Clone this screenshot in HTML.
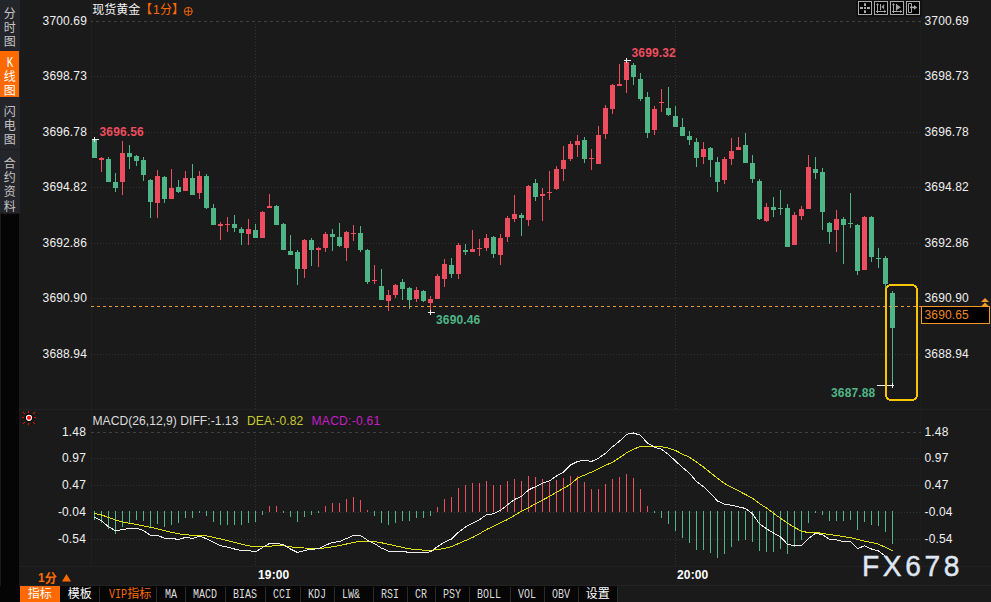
<!DOCTYPE html>
<html><head><meta charset="utf-8"><title>chart</title>
<style>
html,body{margin:0;padding:0;background:#1a1a1a;}
#root{position:relative;width:991px;height:602px;overflow:hidden;background:#1a1a1a;font-family:"Liberation Sans",sans-serif;}
.t{position:absolute;white-space:nowrap;line-height:14px;height:14px;letter-spacing:0.15px;}
.sb{position:absolute;left:0;width:20px;background:#24252a;}
.tab{position:absolute;top:587px;height:15px;line-height:15px;color:#dcdcdc;font-family:"Liberation Mono",monospace;font-size:10px;text-align:center;transform:scaleY(1.2);transform-origin:50% 50%;}
.sep{position:absolute;top:587px;width:1px;height:15px;background:#2c2c2c;}
svg{position:absolute;left:0;top:0;}
svg rect,svg line,svg polyline{shape-rendering:crispEdges;}
svg text{font-family:"Liberation Sans","Noto Sans CJK SC",sans-serif;}
</style></head><body>
<div id="root">
<div class="sb" style="top:0;height:213px"></div>
<div class="sb" style="top:51px;height:46px;width:19px;background:#ff6a00"></div>
<div class="sb" style="top:149px;height:1px;background:#1d1e22"></div>
<div style="position:absolute;left:1px;top:214px;width:18px;height:388px;background:#050505"></div>
<div style="position:absolute;left:0;top:586px;width:20px;height:16px;background:#050505"></div>
<div style="position:absolute;left:20px;top:586px;width:597px;height:16px;background:#060606"></div>
<div style="position:absolute;left:20px;top:586px;width:40px;height:16px;background:#ff6a00"></div>
<div class="sep" style="left:99px"></div><div class="sep" style="left:156px"></div><div class="sep" style="left:185px"></div><div class="sep" style="left:225px"></div><div class="sep" style="left:265px"></div><div class="sep" style="left:300px"></div><div class="sep" style="left:334px"></div><div class="sep" style="left:373px"></div><div class="sep" style="left:407px"></div><div class="sep" style="left:435px"></div><div class="sep" style="left:469px"></div><div class="sep" style="left:510px"></div><div class="sep" style="left:544px"></div><div class="sep" style="left:578px"></div><div class="sep" style="left:617px"></div>
<svg width="991" height="602" viewBox="0 0 991 602">
<rect x="91" y="0" width="1" height="566" fill="#202020"/>
<rect x="920" y="0" width="1" height="566" fill="#1d1d1d"/>
<rect x="19" y="409" width="972" height="1" fill="#212121"/>
<rect x="19" y="566" width="972" height="1" fill="#212121"/>
<rect x="19" y="585" width="972" height="1" fill="#222"/>
<line x1="91" y1="21.5" x2="921" y2="21.5" stroke="#404040" stroke-dasharray="3 3" stroke-dashoffset="1"/>
<line x1="91" y1="76.5" x2="921" y2="76.5" stroke="#333333" stroke-dasharray="1 2"/>
<line x1="91" y1="132.5" x2="921" y2="132.5" stroke="#333333" stroke-dasharray="1 2"/>
<line x1="91" y1="187.5" x2="921" y2="187.5" stroke="#333333" stroke-dasharray="1 2"/>
<line x1="91" y1="243.5" x2="921" y2="243.5" stroke="#333333" stroke-dasharray="1 2"/>
<line x1="91" y1="298.5" x2="921" y2="298.5" stroke="#333333" stroke-dasharray="1 2"/>
<line x1="91" y1="354.5" x2="921" y2="354.5" stroke="#333333" stroke-dasharray="1 2"/>
<line x1="255.5" y1="24" x2="255.5" y2="409" stroke="#333333" stroke-dasharray="1 2"/>
<line x1="675.5" y1="24" x2="675.5" y2="409" stroke="#333333" stroke-dasharray="1 2"/>
<line x1="91" y1="432.5" x2="921" y2="432.5" stroke="#404040" stroke-dasharray="3 3" stroke-dashoffset="0"/>
<line x1="91" y1="458.5" x2="921" y2="458.5" stroke="#333333" stroke-dasharray="1 2"/>
<line x1="91" y1="485.5" x2="921" y2="485.5" stroke="#333333" stroke-dasharray="1 2"/>
<line x1="91" y1="512.5" x2="921" y2="512.5" stroke="#333333" stroke-dasharray="1 2"/>
<line x1="91" y1="539.5" x2="921" y2="539.5" stroke="#333333" stroke-dasharray="1 2"/>
<line x1="255.5" y1="435" x2="255.5" y2="566" stroke="#333333" stroke-dasharray="1 2"/>
<line x1="675.5" y1="435" x2="675.5" y2="566" stroke="#333333" stroke-dasharray="1 2"/>
<rect x="94" y="511" width="1" height="8.8" fill="#4fb587"/>
<rect x="101" y="511" width="1" height="11.9" fill="#4fb587"/>
<rect x="108" y="511" width="1" height="17.7" fill="#4fb587"/>
<rect x="115" y="511" width="1" height="23.0" fill="#4fb587"/>
<rect x="122" y="511" width="1" height="15.7" fill="#4fb587"/>
<rect x="129" y="511" width="1" height="11.9" fill="#4fb587"/>
<rect x="136" y="511" width="1" height="8.8" fill="#4fb587"/>
<rect x="143" y="511" width="1" height="9.8" fill="#4fb587"/>
<rect x="150" y="511" width="1" height="16.7" fill="#4fb587"/>
<rect x="157" y="511" width="1" height="12.8" fill="#4fb587"/>
<rect x="164" y="511" width="1" height="15.7" fill="#4fb587"/>
<rect x="171" y="511" width="1" height="13.7" fill="#4fb587"/>
<rect x="178" y="511" width="1" height="11.9" fill="#4fb587"/>
<rect x="185" y="511" width="1" height="6.8" fill="#4fb587"/>
<rect x="192" y="511" width="1" height="6.8" fill="#4fb587"/>
<rect x="199" y="511" width="1" height="1.9" fill="#4fb587"/>
<rect x="206" y="511" width="1" height="5.0" fill="#4fb587"/>
<rect x="213" y="511" width="1" height="10.8" fill="#4fb587"/>
<rect x="220" y="511" width="1" height="13.8" fill="#4fb587"/>
<rect x="227" y="511" width="1" height="14.1" fill="#4fb587"/>
<rect x="234" y="511" width="1" height="14.1" fill="#4fb587"/>
<rect x="241" y="511" width="1" height="13.8" fill="#4fb587"/>
<rect x="248" y="511" width="1" height="12.0" fill="#4fb587"/>
<rect x="255" y="511" width="1" height="11.1" fill="#4fb587"/>
<rect x="262" y="511" width="1" height="4.0" fill="#4fb587"/>
<rect x="269" y="505.9" width="1" height="6.1" fill="#ee4d5f"/>
<rect x="276" y="505.9" width="1" height="6.1" fill="#ee4d5f"/>
<rect x="283" y="511" width="1" height="2.0" fill="#4fb587"/>
<rect x="290" y="511" width="1" height="6.0" fill="#4fb587"/>
<rect x="297" y="511" width="1" height="11.1" fill="#4fb587"/>
<rect x="304" y="511" width="1" height="6.0" fill="#4fb587"/>
<rect x="311" y="511" width="1" height="4.0" fill="#4fb587"/>
<rect x="318" y="511" width="1" height="2.0" fill="#4fb587"/>
<rect x="325" y="505.9" width="1" height="6.1" fill="#ee4d5f"/>
<rect x="332" y="502.9" width="1" height="9.1" fill="#ee4d5f"/>
<rect x="339" y="502.9" width="1" height="9.1" fill="#ee4d5f"/>
<rect x="346" y="499.0" width="1" height="13.0" fill="#ee4d5f"/>
<rect x="353" y="497.0" width="1" height="15.0" fill="#ee4d5f"/>
<rect x="360" y="500.0" width="1" height="12.0" fill="#ee4d5f"/>
<rect x="367" y="509.5" width="1" height="2.5" fill="#ee4d5f"/>
<rect x="374" y="511" width="1" height="4.9" fill="#4fb587"/>
<rect x="381" y="511" width="1" height="12.1" fill="#4fb587"/>
<rect x="388" y="511" width="1" height="14.0" fill="#4fb587"/>
<rect x="395" y="511" width="1" height="12.1" fill="#4fb587"/>
<rect x="402" y="511" width="1" height="10.2" fill="#4fb587"/>
<rect x="409" y="511" width="1" height="10.2" fill="#4fb587"/>
<rect x="416" y="511" width="1" height="6.8" fill="#4fb587"/>
<rect x="423" y="511" width="1" height="6.8" fill="#4fb587"/>
<rect x="430" y="511" width="1" height="5.0" fill="#4fb587"/>
<rect x="437" y="506.9" width="1" height="5.1" fill="#ee4d5f"/>
<rect x="444" y="498.9" width="1" height="13.1" fill="#ee4d5f"/>
<rect x="451" y="497.0" width="1" height="15.0" fill="#ee4d5f"/>
<rect x="458" y="487.9" width="1" height="24.1" fill="#ee4d5f"/>
<rect x="465" y="485.0" width="1" height="27.0" fill="#ee4d5f"/>
<rect x="472" y="483.0" width="1" height="29.0" fill="#ee4d5f"/>
<rect x="479" y="483.0" width="1" height="29.0" fill="#ee4d5f"/>
<rect x="486" y="481.0" width="1" height="31.0" fill="#ee4d5f"/>
<rect x="493" y="485.0" width="1" height="27.0" fill="#ee4d5f"/>
<rect x="500" y="485.0" width="1" height="27.0" fill="#ee4d5f"/>
<rect x="507" y="480.9" width="1" height="31.1" fill="#ee4d5f"/>
<rect x="514" y="479.0" width="1" height="33.0" fill="#ee4d5f"/>
<rect x="521" y="480.9" width="1" height="31.1" fill="#ee4d5f"/>
<rect x="528" y="476.0" width="1" height="36.0" fill="#ee4d5f"/>
<rect x="535" y="477.1" width="1" height="34.9" fill="#ee4d5f"/>
<rect x="542" y="479.0" width="1" height="33.0" fill="#ee4d5f"/>
<rect x="549" y="482.1" width="1" height="29.9" fill="#ee4d5f"/>
<rect x="556" y="480.1" width="1" height="31.9" fill="#ee4d5f"/>
<rect x="563" y="477.8" width="1" height="34.2" fill="#ee4d5f"/>
<rect x="570" y="476.0" width="1" height="36.0" fill="#ee4d5f"/>
<rect x="577" y="476.0" width="1" height="36.0" fill="#ee4d5f"/>
<rect x="584" y="482.1" width="1" height="29.9" fill="#ee4d5f"/>
<rect x="591" y="488.9" width="1" height="23.1" fill="#ee4d5f"/>
<rect x="598" y="488.9" width="1" height="23.1" fill="#ee4d5f"/>
<rect x="605" y="483.9" width="1" height="28.1" fill="#ee4d5f"/>
<rect x="612" y="479.0" width="1" height="33.0" fill="#ee4d5f"/>
<rect x="619" y="477.1" width="1" height="34.9" fill="#ee4d5f"/>
<rect x="626" y="474.0" width="1" height="38.0" fill="#ee4d5f"/>
<rect x="633" y="478.0" width="1" height="34.0" fill="#ee4d5f"/>
<rect x="640" y="489.0" width="1" height="23.0" fill="#ee4d5f"/>
<rect x="647" y="506.0" width="1" height="6.0" fill="#ee4d5f"/>
<rect x="654" y="511" width="1" height="2.0" fill="#4fb587"/>
<rect x="661" y="511" width="1" height="6.8" fill="#4fb587"/>
<rect x="668" y="511" width="1" height="12.9" fill="#4fb587"/>
<rect x="675" y="511" width="1" height="20.0" fill="#4fb587"/>
<rect x="682" y="511" width="1" height="27.0" fill="#4fb587"/>
<rect x="689" y="511" width="1" height="31.8" fill="#4fb587"/>
<rect x="696" y="511" width="1" height="38.9" fill="#4fb587"/>
<rect x="703" y="511" width="1" height="38.9" fill="#4fb587"/>
<rect x="710" y="511" width="1" height="42.0" fill="#4fb587"/>
<rect x="717" y="511" width="1" height="46.9" fill="#4fb587"/>
<rect x="724" y="511" width="1" height="42.9" fill="#4fb587"/>
<rect x="731" y="511" width="1" height="35.9" fill="#4fb587"/>
<rect x="738" y="511" width="1" height="29.8" fill="#4fb587"/>
<rect x="745" y="511" width="1" height="28.8" fill="#4fb587"/>
<rect x="752" y="511" width="1" height="30.8" fill="#4fb587"/>
<rect x="759" y="511" width="1" height="39.8" fill="#4fb587"/>
<rect x="766" y="511" width="1" height="40.9" fill="#4fb587"/>
<rect x="773" y="511" width="1" height="40.9" fill="#4fb587"/>
<rect x="780" y="511" width="1" height="37.9" fill="#4fb587"/>
<rect x="787" y="511" width="1" height="42.9" fill="#4fb587"/>
<rect x="794" y="511" width="1" height="35.9" fill="#4fb587"/>
<rect x="801" y="511" width="1" height="28.8" fill="#4fb587"/>
<rect x="808" y="511" width="1" height="11.8" fill="#4fb587"/>
<rect x="815" y="511" width="1" height="2.0" fill="#4fb587"/>
<rect x="822" y="511" width="1" height="3.9" fill="#4fb587"/>
<rect x="829" y="511" width="1" height="9.8" fill="#4fb587"/>
<rect x="836" y="511" width="1" height="9.8" fill="#4fb587"/>
<rect x="843" y="511" width="1" height="9.8" fill="#4fb587"/>
<rect x="850" y="511" width="1" height="8.9" fill="#4fb587"/>
<rect x="857" y="511" width="1" height="18.7" fill="#4fb587"/>
<rect x="864" y="511" width="1" height="10.9" fill="#4fb587"/>
<rect x="871" y="511" width="1" height="13.8" fill="#4fb587"/>
<rect x="878" y="511" width="1" height="14.8" fill="#4fb587"/>
<rect x="885" y="511" width="1" height="21.0" fill="#4fb587"/>
<rect x="892" y="511" width="1" height="32.8" fill="#4fb587"/>
<polyline points="94.5,513.4 101.5,515.0 108.5,517.4 115.5,520.1 122.5,521.9 129.5,523.2 136.5,524.4 143.5,525.9 150.5,527.3 157.5,528.9 164.5,530.7 171.5,532.3 178.5,533.8 185.5,534.7 192.5,535.3 199.5,535.6 206.5,535.9 213.5,537.4 220.5,538.9 227.5,540.7 234.5,542.5 241.5,544.2 248.5,545.7 255.5,546.8 262.5,546.8 269.5,546.3 276.5,545.5 283.5,545.5 290.5,546.8 297.5,547.8 304.5,548.0 311.5,548.6 318.5,548.6 325.5,547.8 332.5,546.8 339.5,545.5 346.5,544.0 353.5,542.4 360.5,541.3 367.5,541.3 374.5,541.6 381.5,542.8 388.5,544.3 395.5,545.8 402.5,547.4 409.5,548.9 416.5,549.6 423.5,550.1 430.5,550.4 437.5,549.6 444.5,548.4 451.5,546.6 458.5,543.6 465.5,540.5 472.5,537.5 479.5,533.7 486.5,529.5 493.5,526.3 500.5,522.9 507.5,519.5 514.5,515.4 521.5,511.1 528.5,507.8 535.5,503.6 542.5,500.2 549.5,496.3 556.5,492.2 563.5,488.4 570.5,484.3 577.5,478.1 584.5,475.1 591.5,472.1 598.5,468.8 605.5,465.4 612.5,462.2 619.5,457.8 626.5,452.8 633.5,449.2 640.5,446.5 647.5,446.5 654.5,446.5 661.5,446.6 668.5,448.2 675.5,450.4 682.5,454.2 689.5,457.2 696.5,462.1 703.5,467.1 710.5,472.7 717.5,478.3 724.5,483.5 731.5,487.3 738.5,490.9 745.5,494.5 752.5,498.3 759.5,503.6 766.5,508.0 773.5,513.3 780.5,518.3 787.5,523.1 794.5,527.4 801.5,531.2 808.5,532.6 815.5,532.6 822.5,533.3 829.5,534.6 836.5,535.5 843.5,536.6 850.5,537.6 857.5,539.5 864.5,541.2 871.5,542.5 878.5,544.2 885.5,547.3 892.5,550.6" fill="none" stroke="#e0e010" stroke-width="1" stroke-linejoin="round"/>
<polyline points="94.5,517.2 101.5,520.8 108.5,526.7 115.5,530.7 122.5,529.6 129.5,528.3 136.5,528.3 143.5,530.6 150.5,535.3 157.5,535.6 164.5,538.1 171.5,538.2 178.5,539.6 185.5,537.4 192.5,538.4 199.5,536.2 206.5,538.7 213.5,542.2 220.5,545.7 227.5,547.2 234.5,549.0 241.5,550.5 248.5,550.5 255.5,551.8 262.5,547.5 269.5,543.4 276.5,543.4 283.5,544.8 290.5,549.0 297.5,552.5 304.5,550.5 311.5,549.3 318.5,548.7 325.5,545.2 332.5,542.5 339.5,541.5 346.5,538.5 353.5,535.5 360.5,535.5 367.5,540.2 374.5,543.6 381.5,548.1 388.5,551.1 395.5,551.1 402.5,551.6 409.5,552.3 416.5,552.3 423.5,552.3 430.5,551.9 437.5,546.6 444.5,542.1 451.5,539.0 458.5,532.2 465.5,526.9 472.5,523.1 479.5,519.7 486.5,514.8 493.5,513.7 500.5,510.4 507.5,504.8 514.5,499.5 521.5,496.3 528.5,490.0 535.5,486.6 542.5,483.1 549.5,480.9 556.5,476.0 563.5,472.1 570.5,465.0 577.5,461.5 584.5,460.1 591.5,461.5 598.5,458.2 605.5,453.3 612.5,446.8 619.5,441.2 626.5,434.4 633.5,433.0 640.5,435.3 647.5,443.2 654.5,447.2 661.5,449.2 668.5,454.5 675.5,461.0 682.5,467.4 689.5,473.4 696.5,481.5 703.5,486.8 710.5,493.3 717.5,501.0 724.5,504.1 731.5,505.3 738.5,506.8 745.5,508.5 752.5,513.8 759.5,523.9 766.5,528.7 773.5,533.0 780.5,536.8 787.5,544.3 794.5,545.6 801.5,545.6 808.5,538.4 815.5,533.3 822.5,534.6 829.5,539.5 836.5,539.8 843.5,541.6 850.5,541.6 857.5,548.6 864.5,545.8 871.5,549.0 878.5,551.0 885.5,556.2 892.5,566.0" fill="none" stroke="#ececec" stroke-width="1" stroke-linejoin="round"/>
<rect x="94" y="139" width="1" height="19" fill="#4fb587"/>
<rect x="92" y="140" width="5" height="18" fill="#4fb587"/>
<rect x="101" y="157" width="1" height="15" fill="#ee4d5f"/>
<rect x="99" y="158" width="5" height="2" fill="#ee4d5f"/>
<rect x="108" y="157" width="1" height="25" fill="#4fb587"/>
<rect x="106" y="159" width="5" height="23" fill="#4fb587"/>
<rect x="115" y="173" width="1" height="19" fill="#4fb587"/>
<rect x="113" y="182" width="5" height="6" fill="#4fb587"/>
<rect x="122" y="141" width="1" height="54" fill="#ee4d5f"/>
<rect x="120" y="153" width="5" height="29" fill="#ee4d5f"/>
<rect x="129" y="145" width="1" height="24" fill="#4fb587"/>
<rect x="127" y="153" width="5" height="4" fill="#4fb587"/>
<rect x="136" y="155" width="1" height="11" fill="#4fb587"/>
<rect x="134" y="156" width="5" height="5" fill="#4fb587"/>
<rect x="143" y="157" width="1" height="24" fill="#4fb587"/>
<rect x="141" y="160" width="5" height="15" fill="#4fb587"/>
<rect x="150" y="179" width="1" height="39" fill="#4fb587"/>
<rect x="148" y="180" width="5" height="22" fill="#4fb587"/>
<rect x="157" y="170" width="1" height="48" fill="#ee4d5f"/>
<rect x="155" y="176" width="5" height="27" fill="#ee4d5f"/>
<rect x="164" y="176" width="1" height="27" fill="#4fb587"/>
<rect x="162" y="177" width="5" height="22" fill="#4fb587"/>
<rect x="171" y="169" width="1" height="30" fill="#ee4d5f"/>
<rect x="169" y="188" width="5" height="11" fill="#ee4d5f"/>
<rect x="178" y="180" width="1" height="13" fill="#4fb587"/>
<rect x="176" y="187" width="5" height="5" fill="#4fb587"/>
<rect x="185" y="171" width="1" height="20" fill="#ee4d5f"/>
<rect x="183" y="178" width="5" height="13" fill="#ee4d5f"/>
<rect x="192" y="164" width="1" height="31" fill="#4fb587"/>
<rect x="190" y="178" width="5" height="17" fill="#4fb587"/>
<rect x="199" y="171" width="1" height="28" fill="#ee4d5f"/>
<rect x="197" y="176" width="5" height="17" fill="#ee4d5f"/>
<rect x="206" y="174" width="1" height="35" fill="#4fb587"/>
<rect x="204" y="176" width="5" height="32" fill="#4fb587"/>
<rect x="213" y="204" width="1" height="21" fill="#4fb587"/>
<rect x="211" y="208" width="5" height="17" fill="#4fb587"/>
<rect x="220" y="222" width="1" height="18" fill="#ee4d5f"/>
<rect x="218" y="224" width="5" height="2" fill="#ee4d5f"/>
<rect x="227" y="217" width="1" height="15" fill="#ee4d5f"/>
<rect x="225" y="224" width="5" height="1" fill="#ee4d5f"/>
<rect x="234" y="215" width="1" height="17" fill="#4fb587"/>
<rect x="232" y="224" width="5" height="4" fill="#4fb587"/>
<rect x="241" y="227" width="1" height="18" fill="#4fb587"/>
<rect x="239" y="229" width="5" height="4" fill="#4fb587"/>
<rect x="248" y="219" width="1" height="26" fill="#ee4d5f"/>
<rect x="246" y="229" width="5" height="5" fill="#ee4d5f"/>
<rect x="255" y="224" width="1" height="14" fill="#4fb587"/>
<rect x="253" y="230" width="5" height="8" fill="#4fb587"/>
<rect x="262" y="211" width="1" height="27" fill="#ee4d5f"/>
<rect x="260" y="212" width="5" height="26" fill="#ee4d5f"/>
<rect x="269" y="194" width="1" height="14" fill="#ee4d5f"/>
<rect x="267" y="206" width="5" height="2" fill="#ee4d5f"/>
<rect x="276" y="205" width="1" height="20" fill="#4fb587"/>
<rect x="274" y="206" width="5" height="19" fill="#4fb587"/>
<rect x="283" y="223" width="1" height="27" fill="#4fb587"/>
<rect x="281" y="224" width="5" height="26" fill="#4fb587"/>
<rect x="290" y="235" width="1" height="20" fill="#4fb587"/>
<rect x="288" y="251" width="5" height="4" fill="#4fb587"/>
<rect x="297" y="250" width="1" height="35" fill="#4fb587"/>
<rect x="295" y="252" width="5" height="17" fill="#4fb587"/>
<rect x="304" y="239" width="1" height="39" fill="#ee4d5f"/>
<rect x="302" y="240" width="5" height="29" fill="#ee4d5f"/>
<rect x="311" y="238" width="1" height="28" fill="#4fb587"/>
<rect x="309" y="240" width="5" height="10" fill="#4fb587"/>
<rect x="318" y="247" width="1" height="20" fill="#ee4d5f"/>
<rect x="316" y="248" width="5" height="2" fill="#ee4d5f"/>
<rect x="325" y="232" width="1" height="20" fill="#ee4d5f"/>
<rect x="323" y="234" width="5" height="14" fill="#ee4d5f"/>
<rect x="332" y="229" width="1" height="22" fill="#4fb587"/>
<rect x="330" y="234" width="5" height="3" fill="#4fb587"/>
<rect x="339" y="223" width="1" height="24" fill="#4fb587"/>
<rect x="337" y="237" width="5" height="9" fill="#4fb587"/>
<rect x="346" y="231" width="1" height="30" fill="#ee4d5f"/>
<rect x="344" y="232" width="5" height="16" fill="#ee4d5f"/>
<rect x="353" y="225" width="1" height="16" fill="#ee4d5f"/>
<rect x="351" y="233" width="5" height="1" fill="#ee4d5f"/>
<rect x="360" y="226" width="1" height="26" fill="#4fb587"/>
<rect x="358" y="233" width="5" height="17" fill="#4fb587"/>
<rect x="367" y="249" width="1" height="35" fill="#4fb587"/>
<rect x="365" y="250" width="5" height="32" fill="#4fb587"/>
<rect x="374" y="265" width="1" height="19" fill="#ee4d5f"/>
<rect x="372" y="280" width="5" height="1" fill="#ee4d5f"/>
<rect x="381" y="269" width="1" height="31" fill="#4fb587"/>
<rect x="379" y="286" width="5" height="14" fill="#4fb587"/>
<rect x="388" y="290" width="1" height="21" fill="#ee4d5f"/>
<rect x="386" y="295" width="5" height="6" fill="#ee4d5f"/>
<rect x="395" y="284" width="1" height="14" fill="#ee4d5f"/>
<rect x="393" y="285" width="5" height="10" fill="#ee4d5f"/>
<rect x="402" y="279" width="1" height="21" fill="#4fb587"/>
<rect x="400" y="282" width="5" height="7" fill="#4fb587"/>
<rect x="409" y="287" width="1" height="22" fill="#4fb587"/>
<rect x="407" y="288" width="5" height="12" fill="#4fb587"/>
<rect x="416" y="287" width="1" height="15" fill="#ee4d5f"/>
<rect x="414" y="290" width="5" height="9" fill="#ee4d5f"/>
<rect x="423" y="290" width="1" height="12" fill="#4fb587"/>
<rect x="421" y="291" width="5" height="10" fill="#4fb587"/>
<rect x="430" y="296" width="1" height="16" fill="#ee4d5f"/>
<rect x="428" y="299" width="5" height="4" fill="#ee4d5f"/>
<rect x="437" y="274" width="1" height="25" fill="#ee4d5f"/>
<rect x="435" y="276" width="5" height="23" fill="#ee4d5f"/>
<rect x="444" y="259" width="1" height="28" fill="#ee4d5f"/>
<rect x="442" y="264" width="5" height="15" fill="#ee4d5f"/>
<rect x="451" y="258" width="1" height="20" fill="#4fb587"/>
<rect x="449" y="265" width="5" height="9" fill="#4fb587"/>
<rect x="458" y="243" width="1" height="36" fill="#ee4d5f"/>
<rect x="456" y="245" width="5" height="29" fill="#ee4d5f"/>
<rect x="465" y="244" width="1" height="11" fill="#4fb587"/>
<rect x="463" y="250" width="5" height="2" fill="#4fb587"/>
<rect x="472" y="230" width="1" height="22" fill="#ee4d5f"/>
<rect x="470" y="249" width="5" height="3" fill="#ee4d5f"/>
<rect x="479" y="239" width="1" height="17" fill="#ee4d5f"/>
<rect x="477" y="248" width="5" height="1" fill="#ee4d5f"/>
<rect x="486" y="234" width="1" height="17" fill="#ee4d5f"/>
<rect x="484" y="238" width="5" height="10" fill="#ee4d5f"/>
<rect x="493" y="236" width="1" height="22" fill="#4fb587"/>
<rect x="491" y="237" width="5" height="17" fill="#4fb587"/>
<rect x="500" y="234" width="1" height="31" fill="#ee4d5f"/>
<rect x="498" y="238" width="5" height="17" fill="#ee4d5f"/>
<rect x="507" y="216" width="1" height="26" fill="#ee4d5f"/>
<rect x="505" y="218" width="5" height="19" fill="#ee4d5f"/>
<rect x="514" y="195" width="1" height="27" fill="#ee4d5f"/>
<rect x="512" y="214" width="5" height="5" fill="#ee4d5f"/>
<rect x="521" y="213" width="1" height="23" fill="#4fb587"/>
<rect x="519" y="215" width="5" height="3" fill="#4fb587"/>
<rect x="528" y="185" width="1" height="41" fill="#ee4d5f"/>
<rect x="526" y="186" width="5" height="34" fill="#ee4d5f"/>
<rect x="535" y="179" width="1" height="22" fill="#4fb587"/>
<rect x="533" y="183" width="5" height="14" fill="#4fb587"/>
<rect x="542" y="188" width="1" height="33" fill="#ee4d5f"/>
<rect x="540" y="194" width="5" height="2" fill="#ee4d5f"/>
<rect x="549" y="171" width="1" height="29" fill="#ee4d5f"/>
<rect x="547" y="192" width="5" height="1" fill="#ee4d5f"/>
<rect x="556" y="166" width="1" height="24" fill="#ee4d5f"/>
<rect x="554" y="169" width="5" height="20" fill="#ee4d5f"/>
<rect x="563" y="146" width="1" height="35" fill="#ee4d5f"/>
<rect x="561" y="160" width="5" height="9" fill="#ee4d5f"/>
<rect x="570" y="141" width="1" height="20" fill="#ee4d5f"/>
<rect x="568" y="144" width="5" height="15" fill="#ee4d5f"/>
<rect x="577" y="135" width="1" height="22" fill="#ee4d5f"/>
<rect x="575" y="141" width="5" height="4" fill="#ee4d5f"/>
<rect x="584" y="137" width="1" height="26" fill="#4fb587"/>
<rect x="582" y="140" width="5" height="19" fill="#4fb587"/>
<rect x="591" y="149" width="1" height="21" fill="#ee4d5f"/>
<rect x="589" y="158" width="5" height="1" fill="#ee4d5f"/>
<rect x="598" y="126" width="1" height="38" fill="#ee4d5f"/>
<rect x="596" y="135" width="5" height="29" fill="#ee4d5f"/>
<rect x="605" y="105" width="1" height="34" fill="#ee4d5f"/>
<rect x="603" y="108" width="5" height="26" fill="#ee4d5f"/>
<rect x="612" y="84" width="1" height="30" fill="#ee4d5f"/>
<rect x="610" y="85" width="5" height="24" fill="#ee4d5f"/>
<rect x="619" y="64" width="1" height="22" fill="#ee4d5f"/>
<rect x="617" y="84" width="5" height="2" fill="#ee4d5f"/>
<rect x="626" y="60" width="1" height="33" fill="#ee4d5f"/>
<rect x="624" y="62" width="5" height="18" fill="#ee4d5f"/>
<rect x="633" y="63" width="1" height="22" fill="#4fb587"/>
<rect x="631" y="65" width="5" height="12" fill="#4fb587"/>
<rect x="640" y="73" width="1" height="28" fill="#4fb587"/>
<rect x="638" y="79" width="5" height="20" fill="#4fb587"/>
<rect x="647" y="92" width="1" height="46" fill="#4fb587"/>
<rect x="645" y="97" width="5" height="36" fill="#4fb587"/>
<rect x="654" y="106" width="1" height="29" fill="#ee4d5f"/>
<rect x="652" y="109" width="5" height="21" fill="#ee4d5f"/>
<rect x="661" y="89" width="1" height="23" fill="#ee4d5f"/>
<rect x="659" y="102" width="5" height="1" fill="#ee4d5f"/>
<rect x="668" y="87" width="1" height="29" fill="#4fb587"/>
<rect x="666" y="108" width="5" height="7" fill="#4fb587"/>
<rect x="675" y="106" width="1" height="21" fill="#4fb587"/>
<rect x="673" y="116" width="5" height="11" fill="#4fb587"/>
<rect x="682" y="118" width="1" height="18" fill="#4fb587"/>
<rect x="680" y="127" width="5" height="9" fill="#4fb587"/>
<rect x="689" y="131" width="1" height="14" fill="#4fb587"/>
<rect x="687" y="136" width="5" height="4" fill="#4fb587"/>
<rect x="696" y="138" width="1" height="29" fill="#4fb587"/>
<rect x="694" y="142" width="5" height="16" fill="#4fb587"/>
<rect x="703" y="142" width="1" height="22" fill="#ee4d5f"/>
<rect x="701" y="149" width="5" height="8" fill="#ee4d5f"/>
<rect x="710" y="147" width="1" height="30" fill="#4fb587"/>
<rect x="708" y="148" width="5" height="12" fill="#4fb587"/>
<rect x="717" y="157" width="1" height="35" fill="#4fb587"/>
<rect x="715" y="162" width="5" height="20" fill="#4fb587"/>
<rect x="724" y="157" width="1" height="27" fill="#ee4d5f"/>
<rect x="722" y="159" width="5" height="21" fill="#ee4d5f"/>
<rect x="731" y="138" width="1" height="27" fill="#ee4d5f"/>
<rect x="729" y="151" width="5" height="8" fill="#ee4d5f"/>
<rect x="738" y="137" width="1" height="13" fill="#ee4d5f"/>
<rect x="736" y="147" width="5" height="3" fill="#ee4d5f"/>
<rect x="745" y="133" width="1" height="30" fill="#4fb587"/>
<rect x="743" y="145" width="5" height="18" fill="#4fb587"/>
<rect x="752" y="155" width="1" height="28" fill="#4fb587"/>
<rect x="750" y="163" width="5" height="16" fill="#4fb587"/>
<rect x="759" y="179" width="1" height="41" fill="#4fb587"/>
<rect x="757" y="181" width="5" height="38" fill="#4fb587"/>
<rect x="766" y="203" width="1" height="19" fill="#ee4d5f"/>
<rect x="764" y="207" width="5" height="14" fill="#ee4d5f"/>
<rect x="773" y="197" width="1" height="20" fill="#4fb587"/>
<rect x="771" y="207" width="5" height="3" fill="#4fb587"/>
<rect x="780" y="190" width="1" height="25" fill="#4fb587"/>
<rect x="778" y="208" width="5" height="1" fill="#4fb587"/>
<rect x="787" y="204" width="1" height="43" fill="#4fb587"/>
<rect x="785" y="208" width="5" height="39" fill="#4fb587"/>
<rect x="794" y="212" width="1" height="33" fill="#ee4d5f"/>
<rect x="792" y="215" width="5" height="30" fill="#ee4d5f"/>
<rect x="801" y="206" width="1" height="14" fill="#ee4d5f"/>
<rect x="799" y="209" width="5" height="7" fill="#ee4d5f"/>
<rect x="808" y="155" width="1" height="54" fill="#ee4d5f"/>
<rect x="806" y="167" width="5" height="42" fill="#ee4d5f"/>
<rect x="815" y="157" width="1" height="22" fill="#4fb587"/>
<rect x="813" y="169" width="5" height="4" fill="#4fb587"/>
<rect x="822" y="168" width="1" height="62" fill="#4fb587"/>
<rect x="820" y="172" width="5" height="40" fill="#4fb587"/>
<rect x="829" y="222" width="1" height="22" fill="#4fb587"/>
<rect x="827" y="223" width="5" height="9" fill="#4fb587"/>
<rect x="836" y="210" width="1" height="42" fill="#ee4d5f"/>
<rect x="834" y="219" width="5" height="11" fill="#ee4d5f"/>
<rect x="843" y="217" width="1" height="47" fill="#4fb587"/>
<rect x="841" y="219" width="5" height="6" fill="#4fb587"/>
<rect x="850" y="193" width="1" height="35" fill="#4fb587"/>
<rect x="848" y="223" width="5" height="1" fill="#4fb587"/>
<rect x="857" y="224" width="1" height="51" fill="#4fb587"/>
<rect x="855" y="225" width="5" height="46" fill="#4fb587"/>
<rect x="864" y="216" width="1" height="54" fill="#ee4d5f"/>
<rect x="862" y="217" width="5" height="53" fill="#ee4d5f"/>
<rect x="871" y="216" width="1" height="46" fill="#4fb587"/>
<rect x="869" y="217" width="5" height="40" fill="#4fb587"/>
<rect x="878" y="248" width="1" height="20" fill="#4fb587"/>
<rect x="876" y="258" width="5" height="1" fill="#4fb587"/>
<rect x="885" y="256" width="1" height="32" fill="#4fb587"/>
<rect x="883" y="258" width="5" height="26" fill="#4fb587"/>
<rect x="892" y="291" width="1" height="95" fill="#4fb587"/>
<rect x="890" y="293" width="5" height="35" fill="#4fb587"/>
<line x1="91" y1="306.5" x2="921" y2="306.5" stroke="#f5982a" stroke-dasharray="3 3"/>
<rect x="92" y="139" width="7" height="1" fill="#ececec"/>
<rect x="94" y="137" width="1" height="5" fill="#ececec"/>
<rect x="624" y="60" width="7" height="1" fill="#ececec"/>
<rect x="626" y="58" width="1" height="5" fill="#ececec"/>
<rect x="428" y="312" width="7" height="1" fill="#ececec"/>
<rect x="430" y="310" width="1" height="5" fill="#ececec"/>
<rect x="877" y="385" width="17" height="1" fill="#ececec"/>
<rect x="892" y="383" width="1" height="5" fill="#ececec"/>
<rect x="886" y="285" width="31" height="115" rx="5" ry="5" fill="none" stroke="#f7c600" stroke-width="2"/>
<rect x="921.5" y="306.5" width="68" height="17" fill="#000" stroke="#f5982a"/>
<path d="M981 302 L985 298 L989 302 Z M981 306.5 L985 302.5 L989 306.5 Z" fill="#f5982a"/>
<rect x="856" y="0" width="66" height="17" fill="#111"/>
<rect x="858.5" y="1.5" width="13" height="13" fill="#000" stroke="#ababab"/>
<rect x="874.5" y="1.5" width="13" height="13" fill="#000" stroke="#ababab"/>
<rect x="890.5" y="1.5" width="13" height="13" fill="#000" stroke="#ababab"/>
<rect x="906.5" y="1.5" width="13" height="13" fill="#000" stroke="#ababab"/>
<path d="M864 7h2v2h-2z" fill="#ababab"/>
<path d="M864 3.2h2v2.8h-2z" fill="#ababab"/>
<path d="M864 10.2h2v2.8h-2z" fill="#ababab"/>
<path d="M860 7h3v2h-3z" fill="#ababab"/>
<path d="M867 7h3v2h-3z" fill="#ababab"/>
<path d="M877.5 3.3V13M876 11.5H886M876.3 4.7h2.4M884.6 10.3v2.4" stroke="#ababab" stroke-width="1" fill="none"/>
<path d="M880.5 4v6.2" stroke="#ababab" stroke-width="1.1" fill="none"/><path d="M881.3 7 L884.2 4 V9.4Z" fill="#9a9a9a"/>
<path d="M893.5 3.3V13M892 11.5H902M892.3 4.7h2.4M900.6 10.3v2.4" stroke="#ababab" stroke-width="1" fill="none"/>
<path d="M896 4 L901 7.3 L896 10.6Z" fill="#9a9a9a"/><path d="M896.4 4v6.6" stroke="#ababab" stroke-width="0.9" fill="none"/>
<path d="M908.5 3.5h3v9h-3z" fill="none" stroke="#ababab" stroke-width="1"/>
<path d="M910 7.4h5" stroke="#ababab" stroke-width="1.6" fill="none"/><path d="M914 5 L917.2 7.4 L914 9.8Z" fill="#ababab"/>
<circle cx="188.3" cy="11.3" r="4" fill="none" stroke="#ff6a00" stroke-width="0.9"/><path d="M184.3 11.3h8M188.3 7.3v8" stroke="#ff6a00" stroke-width="0.9" fill="none"/>
<circle cx="29" cy="417.8" r="4.3" fill="#000"/><circle cx="29" cy="417.8" r="3.1" fill="#fff"/><circle cx="29" cy="417.8" r="2" fill="#f00"/>
<rect x="28" y="411" width="1" height="2" fill="#f00"/>
<rect x="28" y="423" width="1" height="2" fill="#f00"/>
<rect x="22" y="417" width="2" height="1" fill="#f00"/>
<rect x="34" y="417" width="2" height="1" fill="#f00"/>
<rect x="23" y="412" width="1" height="1" fill="#f00"/>
<rect x="24" y="413" width="1" height="1" fill="#f00"/>
<rect x="34" y="412" width="1" height="1" fill="#f00"/>
<rect x="33" y="413" width="1" height="1" fill="#f00"/>
<rect x="24" y="422" width="1" height="1" fill="#f00"/>
<rect x="23" y="423" width="1" height="1" fill="#f00"/>
<rect x="33" y="422" width="1" height="1" fill="#f00"/>
<rect x="34" y="423" width="1" height="1" fill="#f00"/>
<path d="M62 581.5 L66.5 574 L71 581.5Z" fill="#ff6a00"/>
<text x="9.7" y="17.5" font-size="12" fill="#c4c4c4" text-anchor="middle">分</text>
<text x="9.7" y="31.6" font-size="12" fill="#c4c4c4" text-anchor="middle">时</text>
<text x="9.7" y="46" font-size="12" fill="#c4c4c4" text-anchor="middle">图</text>
<text x="9.7" y="80.6" font-size="12" fill="#fff" text-anchor="middle">线</text>
<text x="9.7" y="95" font-size="12" fill="#fff" text-anchor="middle">图</text>
<text x="9.7" y="115.6" font-size="12" fill="#c4c4c4" text-anchor="middle">闪</text>
<text x="9.7" y="129.6" font-size="12" fill="#c4c4c4" text-anchor="middle">电</text>
<text x="9.7" y="144.1" font-size="12" fill="#c4c4c4" text-anchor="middle">图</text>
<text x="9.7" y="168" font-size="12" fill="#c4c4c4" text-anchor="middle">合</text>
<text x="9.7" y="182" font-size="12" fill="#c4c4c4" text-anchor="middle">约</text>
<text x="9.7" y="196.4" font-size="12" fill="#c4c4c4" text-anchor="middle">资</text>
<text x="9.7" y="210.6" font-size="12" fill="#c4c4c4" text-anchor="middle">料</text>
<text x="92.3" y="14" font-size="12" fill="#f4f4f4">现货黄金</text>
<text x="140" y="14" font-size="12" fill="#ff6a00">【</text>
<text x="160" y="14" font-size="12" fill="#ff6a00">分</text>
<text x="172" y="14" font-size="12" fill="#ff6a00">】</text>
<text x="44.7" y="583" font-size="12" font-weight="bold" fill="#ff6a00">分</text>
<text x="27.7" y="598" font-size="12" fill="#fff">指标</text>
<text x="67.7" y="598" font-size="12" fill="#fff">模板</text>
<text x="127.2" y="598" font-size="12" fill="#ff6a00">指标</text>
<text x="585.7" y="598" font-size="12" fill="#fff">设置</text>
</svg>
<div class="t" style="left:27px;top:14px;color:#f0f0f0;font-size:12px;width:60px;text-align:right;">3700.69</div><div class="t" style="left:924.5px;top:14px;color:#f0f0f0;font-size:12px;">3700.69</div><div class="t" style="left:27px;top:69px;color:#f0f0f0;font-size:12px;width:60px;text-align:right;">3698.73</div><div class="t" style="left:924.5px;top:69px;color:#f0f0f0;font-size:12px;">3698.73</div><div class="t" style="left:27px;top:125px;color:#f0f0f0;font-size:12px;width:60px;text-align:right;">3696.78</div><div class="t" style="left:924.5px;top:125px;color:#f0f0f0;font-size:12px;">3696.78</div><div class="t" style="left:27px;top:180px;color:#f0f0f0;font-size:12px;width:60px;text-align:right;">3694.82</div><div class="t" style="left:924.5px;top:180px;color:#f0f0f0;font-size:12px;">3694.82</div><div class="t" style="left:27px;top:236px;color:#f0f0f0;font-size:12px;width:60px;text-align:right;">3692.86</div><div class="t" style="left:924.5px;top:236px;color:#f0f0f0;font-size:12px;">3692.86</div><div class="t" style="left:27px;top:291px;color:#f0f0f0;font-size:12px;width:60px;text-align:right;">3690.90</div><div class="t" style="left:924.5px;top:291px;color:#f0f0f0;font-size:12px;">3690.90</div><div class="t" style="left:27px;top:347px;color:#f0f0f0;font-size:12px;width:60px;text-align:right;">3688.94</div><div class="t" style="left:924.5px;top:347px;color:#f0f0f0;font-size:12px;">3688.94</div><div class="t" style="left:26px;top:425px;color:#f0f0f0;font-size:12px;width:60px;text-align:right;">1.48</div><div class="t" style="left:924.5px;top:425px;color:#f0f0f0;font-size:12px;">1.48</div><div class="t" style="left:26px;top:451px;color:#f0f0f0;font-size:12px;width:60px;text-align:right;">0.97</div><div class="t" style="left:924.5px;top:451px;color:#f0f0f0;font-size:12px;">0.97</div><div class="t" style="left:26px;top:478px;color:#f0f0f0;font-size:12px;width:60px;text-align:right;">0.47</div><div class="t" style="left:924.5px;top:478px;color:#f0f0f0;font-size:12px;">0.47</div><div class="t" style="left:26px;top:505px;color:#f0f0f0;font-size:12px;width:60px;text-align:right;">-0.04</div><div class="t" style="left:924.5px;top:505px;color:#f0f0f0;font-size:12px;">-0.04</div><div class="t" style="left:26px;top:532px;color:#f0f0f0;font-size:12px;width:60px;text-align:right;">-0.54</div><div class="t" style="left:924.5px;top:532px;color:#f0f0f0;font-size:12px;">-0.54</div><div class="t" style="left:924.5px;top:307.5px;color:#ee8a26;font-size:12px;">3690.65</div><div class="t" style="left:99.5px;top:125px;color:#ee4d5f;font-size:12px;font-weight:bold;">3696.56</div><div class="t" style="left:631.5px;top:45.7px;color:#ee4d5f;font-size:12px;font-weight:bold;">3699.32</div><div class="t" style="left:436px;top:313px;color:#4fb587;font-size:12px;font-weight:bold;">3690.46</div><div class="t" style="left:831px;top:386px;color:#4fb587;font-size:12px;font-weight:bold;">3687.88</div><div class="t" style="left:153px;top:3px;color:#ff6a00;font-size:12px;">1</div><div class="t" style="left:38px;top:571px;color:#ff6a00;font-size:12px;font-weight:bold;">1</div><div class="t" style="left:258px;top:567.5px;color:#fff;font-size:12px;font-weight:bold;">19:00</div><div class="t" style="left:677px;top:567.5px;color:#fff;font-size:12px;font-weight:bold;">20:00</div><div class="t" style="left:92.5px;top:413.6px;color:#dcdcdc;font-size:12.1px;letter-spacing:0.03px;">MACD(26,12,9) DIFF:-1.13</div><div class="t" style="left:247px;top:413.6px;color:#c9c930;font-size:12.1px;letter-spacing:0.05px;">DEA:-0.82</div><div class="t" style="left:311.5px;top:413.6px;color:#c61fc6;font-size:12.1px;letter-spacing:0.25px;">MACD:-0.61</div><div class="t" style="left:862px;top:550.9px;color:#dfe6f4;font-size:30.3px;letter-spacing:3.9px;line-height:30.3px;height:30.3px;-webkit-text-stroke:0.45px #dfe6f4;transform:scaleX(0.93);transform-origin:0 0;">FX678</div><div class="t" style="left:6.7px;top:55.5px;color:#fff;font-size:11px;font-family:'Liberation Mono',monospace;transform:scaleY(1.25);transform-origin:50% 50%;">K</div>
<div class="tab" style="left:165px;text-align:left">MA</div><div class="tab" style="left:193px;text-align:left">MACD</div><div class="tab" style="left:233px;text-align:left">BIAS</div><div class="tab" style="left:273px;text-align:left">CCI</div><div class="tab" style="left:308px;text-align:left">KDJ</div><div class="tab" style="left:342px;text-align:left">LW&amp;</div><div class="tab" style="left:381px;text-align:left">RSI</div><div class="tab" style="left:415px;text-align:left">CR</div><div class="tab" style="left:443px;text-align:left">PSY</div><div class="tab" style="left:477px;text-align:left">BOLL</div><div class="tab" style="left:518px;text-align:left">VOL</div><div class="tab" style="left:552px;text-align:left">OBV</div><div class="tab" style="left:100px;width:27px;color:#ff6a00;text-align:right">VIP</div>
</div>
</body></html>
